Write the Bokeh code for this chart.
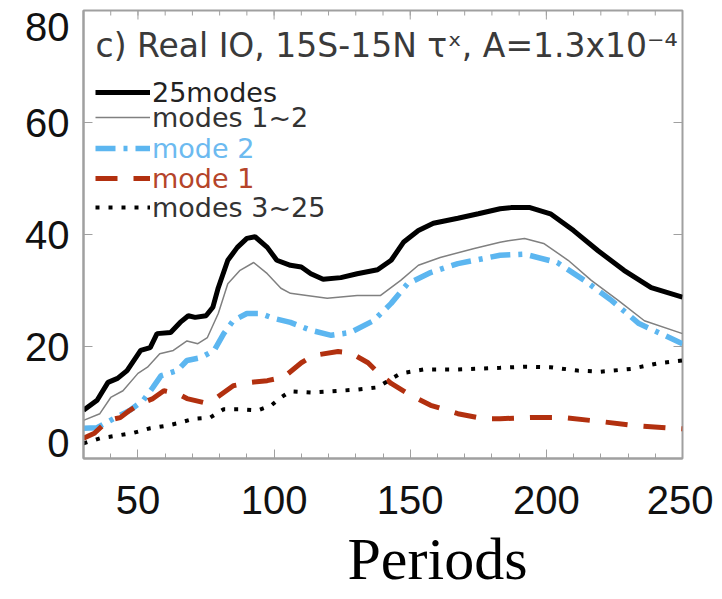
import math
from bokeh.plotting import figure
from bokeh.models import (Legend, LegendItem, Label, Title, Range1d, FixedTicker)
from bokeh.embed import file_html
from bokeh.resources import INLINE

# ---------------- data ----------------
x_all = [30, 35, 39, 42.5, 46, 51, 54.5, 57, 62, 65.5, 68.5, 71, 75, 77.5, 79.5,
         83, 86.5, 90, 93, 97.5, 101, 106, 110, 113.5, 118, 124.5, 130.5, 138,
         143, 147.5, 153, 158.5, 167.5, 175, 183, 187, 194, 201.5, 210, 219,
         228.5, 238.5, 250]
y_all = [8.6, 10.4, 13.6, 14.3, 15.7, 19.3, 19.8, 22.3, 22.5, 24.3, 25.5, 25.2,
         25.5, 27, 30.5, 35.4, 37.7, 39.3, 39.6, 37.7, 35.4, 34.5, 34.2, 33, 32,
         32.3, 33, 33.7, 35.4, 38.6, 40.7, 42, 42.9, 43.7, 44.6, 44.8, 44.8,
         43.7, 40.7, 37.1, 33.6, 30.5, 28.8]

x_12 = [30, 36, 40, 44.5, 50, 53.5, 58, 63, 68, 72, 75.5, 79.5, 83, 87.5, 92.5,
        97.5, 102.5, 106, 112, 119.5, 130.5, 139, 146.5, 153, 161, 173.5, 183,
        186, 192, 199, 208, 216.5, 226.5, 236, 250]
y_12 = [6.8, 8, 10.9, 12.1, 15.2, 16.3, 18.7, 19.3, 21, 20.5, 21.6, 25.9, 31.2,
        33.6, 35, 33, 30.4, 29.5, 29.1, 28.6, 29.1, 29.1, 31.8, 34.5, 35.9,
        37.5, 38.6, 38.9, 39.3, 38.4, 35.4, 31.8, 28.2, 24.6, 22.3]

x_m2 = [30, 35, 41, 47, 52, 55.5, 58.5, 64.5, 68, 73, 78, 81.5, 85, 90, 95, 100,
        106, 113.5, 121, 128, 136.5, 143, 149, 157.5, 167.5, 183, 192, 204, 214,
        224, 234, 250]
y_m2 = [5.4, 5.5, 7.1, 8.6, 10.4, 12.7, 14.8, 15.7, 17.5, 18, 19.3, 22.3, 24.6,
        25.9, 25.9, 25, 24.3, 22.9, 22, 22.5, 24.6, 27.7, 31.2, 33.2, 34.8, 36.3,
        36.5, 35, 31.8, 28.2, 24.1, 20.5]

x_m1 = [30, 34, 39, 43.5, 47, 51, 55.5, 59.5, 64.5, 68, 74, 79, 85, 91.5, 97.5,
        103.5, 110, 114.5, 123.5, 128, 134.5, 138, 143, 149, 157.5, 167.5, 177,
        183, 194, 206.5, 220, 232, 246, 250]
y_m1 = [3.6, 4.5, 6.8, 7.3, 8.6, 9.8, 10.7, 12.1, 11.6, 10.7, 10, 10.9, 13,
        13.6, 13.9, 14.5, 17.1, 18.4, 19.1, 18.9, 17.1, 15.4, 13.4, 11.6, 9.5,
        8, 7.1, 7.1, 7.3, 7.3, 6.6, 5.9, 5.4, 5.3]

x_325 = [30, 36, 42.5, 48.5, 54.5, 61, 65.5, 70.5, 76.5, 81.5, 87.5, 94, 99,
         102.5, 106, 113.5, 121, 130.5, 138, 142, 146.5, 155, 167.5, 183, 192,
         201.5, 211.5, 220, 231, 241, 250]
y_325 = [2.7, 3.6, 4.1, 4.6, 5.4, 5.9, 6.4, 7.1, 7.3, 8.8, 8.8, 8.6, 9.5, 10.9,
         12, 11.8, 12, 12.3, 12.7, 13.9, 15.2, 15.9, 15.9, 16.2, 16.4, 16.3,
         15.7, 15.5, 16, 17, 17.5]

X_MIN, X_MAX = 30, 250
Y_MIN, Y_MAX = 0, 80
x_ticks = [50, 100, 150, 200, 250]
x_minor = list(range(30, 251, 10))
y_ticks = [20, 40, 60]
# the end labels of the y axis sit slightly inside the frame in the reference
y_label_pos = [2.7, 20, 40, 60, 77]
y_label_txt = {2.7: "0", 77: "80"}
title_text = "c) Real IO, 15S-15N \u03c4\u02e3, A=1.3x10\u207b\u2074"
x_label = "Periods"
labels = ["25modes", "modes 1~2", "mode 2", "mode 1", "modes 3~25"]

# ---------------- figure ----------------
p = figure(width=713, height=599, x_range=Range1d(X_MIN, X_MAX),
           y_range=Range1d(Y_MIN, Y_MAX),
           output_backend="svg", toolbar_location=None,
           min_border_left=83, min_border_right=31, min_border_top=10,
           min_border_bottom=141)
p.grid.visible = False
p.outline_line_color = "#a0a0a0"
p.outline_line_width = 2
p.background_fill_color = "white"
p.border_fill_color = "white"

GRAY = "#a0a0a0"

xa = p.xaxis[0]
xa.ticker = FixedTicker(ticks=x_ticks, minor_ticks=x_minor)
xa.axis_line_color = GRAY
xa.axis_line_width = 2
xa.major_tick_line_color = GRAY
xa.minor_tick_line_color = GRAY
xa.major_tick_in = 9
xa.major_tick_out = 0
xa.minor_tick_in = 5
xa.minor_tick_out = 0
xa.major_label_text_font = "Liberation Sans"
xa.major_label_text_font_size = "40px"
xa.major_label_text_color = "#111111"
xa.major_label_standoff = 27

ya = p.yaxis[0]
ya.ticker = FixedTicker(ticks=y_label_pos, minor_ticks=[])
ya.major_label_overrides = y_label_txt
ya.axis_line_color = GRAY
ya.axis_line_width = 2
ya.major_tick_in = 0
ya.major_tick_out = 0
ya.major_label_text_font = "Liberation Sans"
ya.major_label_text_font_size = "40px"
ya.major_label_text_color = "#111111"
ya.major_label_standoff = 14

# inward tick marks on the left, right and top edges (half of each dash is clipped)
p.scatter([X_MIN] * len(y_ticks), y_ticks, marker="dash", size=18, line_color=GRAY,
          line_width=1)
p.scatter([X_MAX] * len(y_ticks), y_ticks, marker="dash", size=18, line_color=GRAY,
          line_width=1)
p.scatter(x_ticks, [Y_MAX] * len(x_ticks), marker="dash", size=18,
          angle=math.pi / 2, line_color=GRAY, line_width=1)
p.scatter(x_minor, [Y_MAX] * len(x_minor), marker="dash", size=10,
          angle=math.pi / 2, line_color=GRAY, line_width=1)

# ---------------- lines ----------------
r_all = p.line(x_all, y_all, line_color="black", line_width=5)
r_12 = p.line(x_12, y_12, line_color="#808080", line_width=1.5)
r_m2 = p.line(x_m2, y_m2, line_color="#5cb6f0", line_width=5.5, line_dash="20 8 4 8")
r_m1 = p.line(x_m1, y_m1, line_color="#b2300f", line_width=5, line_dash="22 16")
r_325 = p.line(x_325, y_325, line_color="black", line_width=4, line_dash="4 9")

# ---------------- legends (one per entry to colour the text) ----------------
renderers = [r_all, r_12, r_m2, r_m1, r_325]
text_colors = ["#222222", "#333333", "#6cbaf0", "#b5442a", "#333333"]
row_offsets = [349, 324, 293, 263, 234]
for r, lab, col, vy in zip(renderers, labels, text_colors, row_offsets):
    leg = Legend(items=[LegendItem(label=lab, renderers=[r])], location=(12, vy),
                 padding=0, margin=0, spacing=0, border_line_alpha=0,
                 background_fill_alpha=0, glyph_width=55, glyph_height=34,
                 label_height=34, label_standoff=2,
                 label_text_font="DejaVu Sans", label_text_font_size="27px",
                 label_text_color=col)
    p.add_layout(leg)

# ---------------- texts ----------------
p.add_layout(Label(x=X_MIN, y=Y_MAX, x_offset=12, y_offset=-35, text=title_text,
                   text_baseline="middle", text_font="DejaVu Sans",
                   text_font_size="33px", text_color="#3a3a3a"))

p.add_layout(Title(text=x_label, align="left", offset=264, standoff=15,
                   text_font="Liberation Serif", text_font_size="60px",
                   text_font_style="normal", text_color="black"), "below")

open("out.html", "w").write(file_html(p, INLINE))
